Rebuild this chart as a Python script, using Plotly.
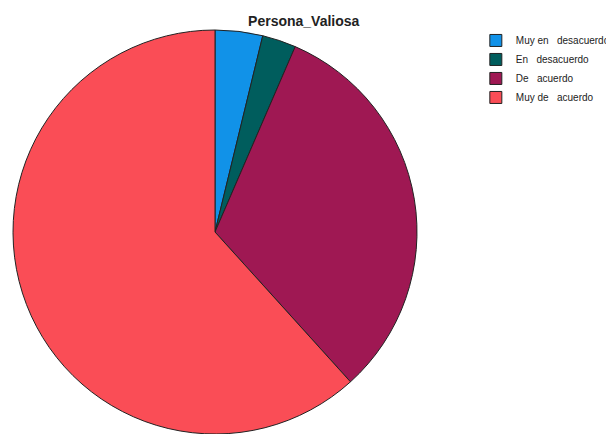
import plotly.graph_objects as go

labels = ["Muy en\u00a0\u00a0\u00a0desacuerdo", "En\u00a0\u00a0\u00a0desacuerdo", "De\u00a0\u00a0\u00a0acuerdo", "Muy de\u00a0\u00a0\u00a0acuerdo"]
values = [3.8, 2.7, 31.8, 61.7]
colors = ["#1192e8", "#005d5d", "#9f1853", "#fa4d56"]

# page body has an 8px margin, so the figure is drawn 8px in from the window corner
W, H = 606, 426
cx, r, top = 207, 202, 22
fig = go.Figure(go.Pie(
    labels=labels, values=values, sort=False, direction="clockwise", rotation=0,
    marker=dict(colors=colors, line=dict(color="#222222", width=1)),
    textinfo="none", hoverinfo="label+percent",
    domain=dict(x=[(cx - r) / W, (cx + r) / W], y=[0, 1]),
))
fig.update_layout(
    width=W, height=H,
    margin=dict(l=0, r=0, t=top, b=0, autoexpand=False),
    paper_bgcolor="white", plot_bgcolor="white",
    title=dict(text="<b>Persona_Valiosa</b>", x=0.488, xanchor="center", y=0.97, yanchor="middle",
               font=dict(family="Arial, Liberation Sans", size=14, color="#222222")),
    legend=dict(x=0.772, y=1.01, xanchor="left", yanchor="top",
                font=dict(family="Arial, Liberation Sans", size=10, color="#222222"),
                tracegroupgap=0, itemwidth=30),
    showlegend=True,
)
fig.write_html("out.html")
